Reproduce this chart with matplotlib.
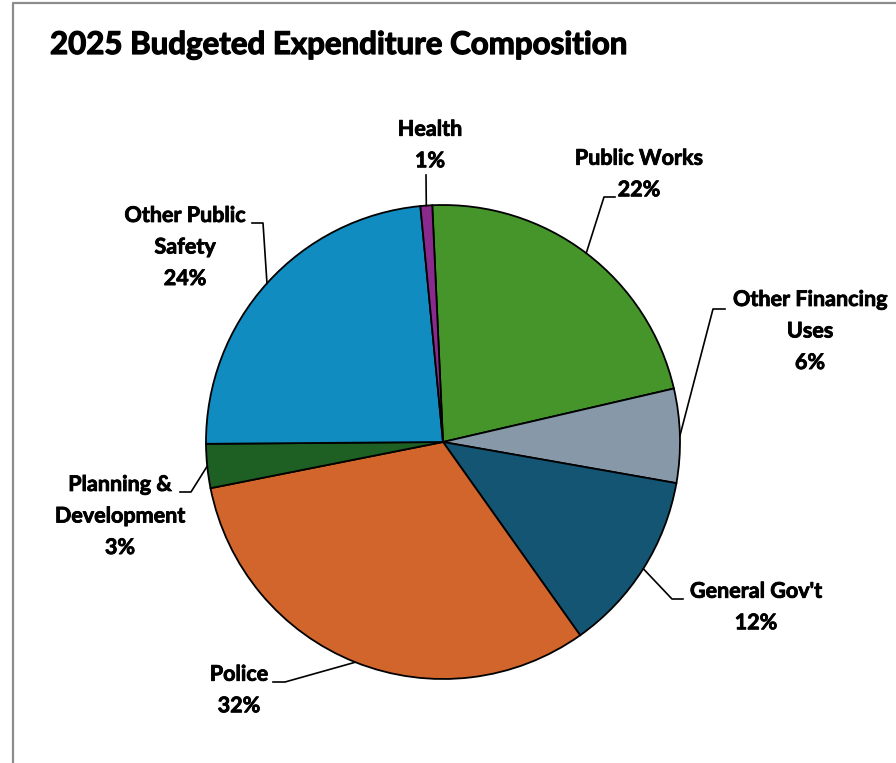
import matplotlib.pyplot as plt
import matplotlib.patheffects as pe
import numpy as np

plt.rcParams['font.family'] = ['Lato', 'DejaVu Sans']

# data (percent of budget)
categories = ['Public Works', 'Other Financing Uses', "General Gov't", 'Police',
              'Planning & Development', 'Other Public Safety', 'Health']
shares = [22.1, 6.4, 12.4, 31.7, 3.0, 23.6, 0.8]
label_text = ['Public Works', 'Other Financing\nUses', "General Gov't", 'Police',
              'Planning &\nDevelopment', 'Other Public\nSafety', 'Health']
colors = ['#46952b', '#8799a9', '#145573', '#d2652c', '#1e5f24', '#118cc0', '#8a2a8c']

W, H = 896, 763
cx, cy, R = 443, 442, 237   # pie centre / radius in image pixels
start = 92.6

# label layout in image pixels: label centre, knee, end of leader
label_pos = [(639, 174), (810, 331), (756, 607), (239, 690), (120, 516), (185, 247), (430, 145)]
knees = [(604, 197), (713, 309), (672, 599), (285, 682), (191, 492), (263, 223), (426, 175)]
ends = [(615, 197), (725, 309), (683, 599), (273, 682), (180, 492), (252, 223), (426, 175)]

fig = plt.figure(figsize=(W / 100, H / 100), dpi=100)
ax = fig.add_axes([0, 0, 1, 1])

def fy(y):
    return H - y

thick = [pe.withStroke(linewidth=0.6, foreground='black')]

wedges, _ = ax.pie(shares, colors=colors, startangle=start, counterclock=False,
                   radius=R, center=(cx, fy(cy)), frame=True,
                   wedgeprops=dict(edgecolor='black', linewidth=1.3))
ax.set_xlim(0, W)
ax.set_ylim(0, H)
ax.set_aspect('equal')
ax.axis('off')

for i, w in enumerate(wedges):
    mid = np.deg2rad((w.theta1 + w.theta2) / 2)
    sx, sy = cx + R * np.cos(mid), fy(cy) + R * np.sin(mid)
    kx, ky = knees[i]
    ex, ey = ends[i]
    ax.plot([sx, kx, ex], [sy, fy(ky), fy(ey)], color='black', lw=1.2)
    pct = f"{round(shares[i])}%"
    ax.text(label_pos[i][0], fy(label_pos[i][1]), label_text[i] + '\n' + pct,
            ha='center', va='center', fontsize=15.5, fontweight='bold',
            linespacing=1.62, color='black', path_effects=thick)

ax.text(50, fy(45), '2025 Budgeted Expenditure Composition', ha='left', va='center',
        fontsize=22.5, fontweight='bold', color='black',
        path_effects=[pe.withStroke(linewidth=0.9, foreground='black')])

# chart frame (only top and left edges visible)
ax.plot([13, 13, W], [0, fy(3), fy(3)], color='#8c8c8c', lw=1.6, clip_on=False)

fig.savefig('out.png', dpi=100)
